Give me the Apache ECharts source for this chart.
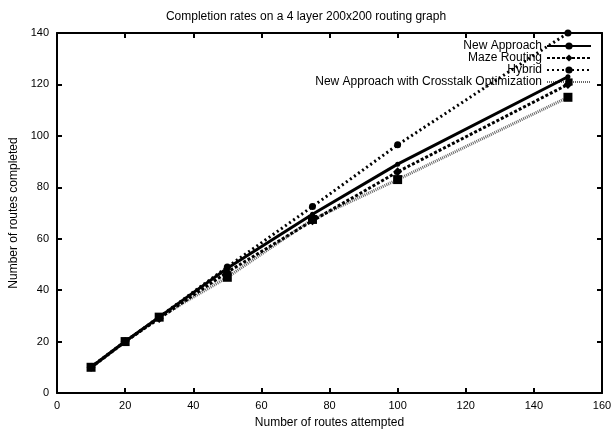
<!DOCTYPE html>
<html>
<head>
<meta charset="utf-8">
<script src="https://cdn.jsdelivr.net/npm/echarts@6/dist/echarts.min.js"></script>
<style>
  html, body { margin: 0; padding: 0; background: #fff; }
  #main { width: 612px; height: 430px; }
</style>
</head>
<body>
<div id="main"></div>
<script>
// routes attempted (x)
var attempted = [10, 20, 30, 50, 75, 100, 150];
// routes completed per method (y)
var newApproach = [10, 20, 29.5, 48.5, 69.5, 89, 123];
var mazeRouting = [10, 20, 29, 47, 67, 86, 120];
var hybrid = [10, 20, 29.5, 49, 72.5, 96.5, 140];
var crosstalk = [10, 20, 29.5, 45, 67.5, 83, 115];
var seriesNames = ['New Approach', 'Maze Routing', 'Hybrid', 'New Approach with Crosstalk Optimization'];

function pairs(ys) {
    return attempted.map(function (x, i) { return [x, ys[i]]; });
}

var font = 'Liberation Sans, Arial, sans-serif';
var myChart = echarts.init(document.getElementById('main'), null, {renderer: 'canvas'});

var lineStyles = [
    {color: '#000', width: 3, type: 'solid'},
    {color: '#000', width: 3, type: [3, 2]},
    {color: '#000', width: 3, type: [2, 3]},
    {color: '#666', width: 3, type: [1, 1]}
];
var symbols = [
    {symbol: 'circle', size: 5},
    {symbol: 'diamond', size: 9},
    {symbol: 'circle', size: 7},
    {symbol: 'rect', size: 9}
];
var values = [newApproach, mazeRouting, hybrid, crosstalk];

// frame axes: ticks point inward on every side
function frameAxis(extra) {
    var base = {
        type: 'value',
        axisLine: {onZero: false, lineStyle: {color: '#000', width: 2}},
        axisTick: {inside: true, length: 5, lineStyle: {color: '#000', width: 2}},
        axisLabel: {show: false},
        splitLine: {show: false}
    };
    return Object.assign(base, extra);
}

var option = {
    animation: false,
    backgroundColor: '#fff',
    title: {
        text: 'Completion rates on a 4 layer 200x200 routing graph',
        left: 'center',
        top: 6,
        textStyle: {fontFamily: font, fontSize: 12, fontWeight: 'normal', color: '#000'}
    },
    legend: seriesNames.map(function (n, i) {
        return {
            data: [n],
            right: 20,
            top: 40 + i * 12,
            align: 'right',
            itemWidth: 44,
            itemHeight: 9,
            itemGap: 4,
            padding: 0,
            selectedMode: false,
            textStyle: {fontFamily: font, fontSize: 12, color: '#000'}
        };
    }),
    grid: {left: 57, right: 10, top: 33, bottom: 37, containLabel: false, outerBoundsMode: 'none'},
    xAxis: [
        frameAxis({
            min: 0, max: 160, interval: 20, position: 'bottom',
            name: 'Number of routes attempted', nameLocation: 'middle', nameGap: 24,
            nameTextStyle: {fontFamily: font, fontSize: 12, color: '#000'},
            axisLabel: {fontFamily: font, fontSize: 11, color: '#000', margin: 7}
        }),
        frameAxis({min: 0, max: 160, interval: 20, position: 'top'})
    ],
    yAxis: [
        frameAxis({
            min: 0, max: 140, interval: 20, position: 'left',
            name: 'Number of routes completed', nameLocation: 'middle', nameGap: 36,
            nameTextStyle: {fontFamily: font, fontSize: 12, color: '#000'},
            axisLabel: {fontFamily: font, fontSize: 11, color: '#000', margin: 8}
        }),
        frameAxis({min: 0, max: 140, interval: 20, position: 'right'})
    ],
    series: seriesNames.map(function (n, i) {
        return {
            name: n,
            type: 'line',
            xAxisIndex: 0,
            yAxisIndex: 0,
            data: pairs(values[i]),
            symbol: symbols[i].symbol,
            symbolSize: symbols[i].size,
            showAllSymbol: true,
            clip: false,
            z: 4 - i,
            lineStyle: lineStyles[i],
            itemStyle: {color: '#000', borderWidth: 0}
        };
    })
};

myChart.setOption(option);
</script>
</body>
</html>
